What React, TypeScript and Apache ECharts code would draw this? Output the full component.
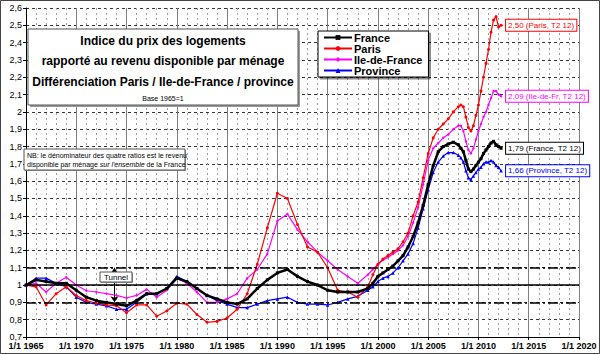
import React, { useEffect, useRef } from "react";
import * as echarts from "echarts";

const years = [
  1965, 1966, 1967, 1968, 1969, 1970, 1971, 1972, 1973, 1974, 1975, 1976, 1977, 1978, 1979,
  1980, 1981, 1982, 1983, 1984, 1985, 1986, 1987, 1988, 1989, 1990, 1991, 1992, 1993, 1994,
  1995, 1996, 1997, 1998,
  1999, 1999.5, 2000, 2000.5, 2001, 2001.5, 2002, 2002.5, 2003, 2003.5, 2004, 2004.5, 2005,
  2005.5, 2006, 2006.5, 2007, 2007.5, 2008,
  2008.25, 2008.5, 2008.75, 2009, 2009.25, 2009.5, 2009.75, 2010, 2010.25, 2010.5, 2010.75,
  2011, 2011.25, 2011.5, 2011.75, 2012, 2012.25,
];

const france = [
  1.0, 1.03, 1.02, 1.01, 1.01, 0.97, 0.93, 0.91, 0.9, 0.89, 0.88, 0.91, 0.95, 0.95, 0.98,
  1.04, 1.02, 0.98, 0.94, 0.92, 0.9, 0.89, 0.92, 0.98, 1.03, 1.07, 1.09, 1.05, 1.02, 1.0,
  0.97, 0.96, 0.96, 0.96,
  0.98, 1.01, 1.05, 1.07, 1.09, 1.11, 1.14, 1.17, 1.22, 1.28, 1.36, 1.46, 1.58,
  1.69, 1.77, 1.8, 1.815, 1.825, 1.81,
  1.79, 1.77, 1.72, 1.67, 1.655, 1.67, 1.69, 1.71, 1.73, 1.76, 1.78,
  1.8, 1.82, 1.83, 1.81, 1.8, 1.79,
];

const paris = [
  1.0, 0.99, 0.885, 0.95, 0.99, 0.94, 0.91, 0.895, 0.885, 0.88, 0.84, 0.885, 0.885, 0.82, 0.85,
  0.895, 0.89, 0.83, 0.785, 0.79, 0.81, 0.86, 0.95, 1.12, 1.33, 1.53, 1.5, 1.35, 1.22, 1.19,
  1.1, 0.97, 0.96, 0.93,
  0.99, 1.06, 1.12, 1.15, 1.17, 1.19, 1.21, 1.25, 1.3, 1.4, 1.48, 1.62, 1.76,
  1.85, 1.9, 1.93, 1.96, 2.0, 2.03,
  2.04, 2.03, 1.97, 1.91, 1.89, 1.92, 1.98, 2.04, 2.12, 2.2, 2.28,
  2.36, 2.46, 2.53, 2.55, 2.49, 2.5,
];

const ileDeFrance = [
  1.0, 1.01, 0.96, 1.01, 1.045, 1.0, 0.967, 0.96, 0.95, 0.94, 0.925, 0.94, 0.975, 0.93, 0.97,
  1.04, 1.01, 0.96, 0.9, 0.9, 0.92, 0.95, 1.04, 1.09, 1.18, 1.37, 1.41, 1.32, 1.25, 1.19,
  1.14, 1.09, 1.05, 1.01,
  1.06, 1.09, 1.12, 1.145, 1.16, 1.18, 1.2, 1.23, 1.28, 1.36, 1.45, 1.58, 1.72,
  1.79, 1.82, 1.85, 1.87, 1.9, 1.92,
  1.92, 1.89, 1.83, 1.78, 1.76, 1.79, 1.84, 1.89, 1.93, 1.97, 2.0,
  2.04, 2.08, 2.12, 2.12, 2.1, 2.09,
];

const province = [
  1.0, 1.04, 1.04, 1.01, 0.99, 0.93, 0.9, 0.89, 0.88, 0.86, 0.86, 0.9, 0.95, 0.95, 0.98,
  1.05, 1.02, 0.98, 0.94, 0.91, 0.89, 0.87, 0.87, 0.89, 0.91, 0.92, 0.93, 0.9, 0.89, 0.89,
  0.885, 0.9, 0.92, 0.935,
  0.97, 0.99, 1.02, 1.04, 1.05, 1.07, 1.1, 1.14, 1.18, 1.24, 1.33, 1.44, 1.55,
  1.65, 1.71, 1.745, 1.765, 1.765, 1.75,
  1.735, 1.71, 1.66, 1.62, 1.61, 1.63, 1.65, 1.67, 1.68, 1.7, 1.71,
  1.71, 1.72, 1.71, 1.69, 1.68, 1.66,
];

const seriesNames = ["France", "Paris", "Ile-de-France", "Province"];
const endLabelNames = ["France", "Paris", "Ile-de-Fr", "Province"];
const endPeriod = "T2 12";
const refLines = [1.0, 1.1, 0.9];
const tunnelYear = 1973.8;

const FONT = "Liberation Sans, Arial, sans-serif";
const ZB = 50;

const fmt = (v: number, d: number) => v.toFixed(d).replace(".", ",");

const boxWithShadow = (w: number, h: number, off: number) => [
  {
    type: "rect",
    z: ZB,
    shape: { x: off, y: off, width: w, height: h },
    style: { fill: "#9a9a9a", stroke: "none" },
  },
  {
    type: "rect",
    z: ZB + 1,
    shape: { x: 0, y: 0, width: w, height: h },
    style: { fill: "#ffffff", stroke: "#555", lineWidth: 1 },
  },
];

const txt = (x: number, y: number, style: any) => ({
  type: "text",
  z: ZB + 2,
  x,
  y,
  style: { fontFamily: FONT, fill: "#000", ...style },
});

export default function App() {
  const ref = useRef<HTMLDivElement>(null);
  useEffect(() => {
    if (!ref.current) return;
    const chart = echarts.init(ref.current, null, { renderer: "svg" });
    const pairs = (vals: number[]) => years.map((y, i) => [y, vals[i]]);
    const colors = ["#000000", "#FF0000", "#FF00FF", "#0000FF"];
    const dataSets = [france, paris, ileDeFrance, province];
    const symbols = ["rect", "circle", "diamond", "triangle"];
    const symbolSizes = [3, 3, 3, 3.5];
    const widths = [2.5, 1.2, 1.2, 1.2];

    const series: any[] = dataSets.map((vals, i) => ({
      name: seriesNames[i],
      type: "line",
      data: pairs(vals),
      z: i === 0 ? 6 : 5 - i,
      color: colors[i],
      symbol: symbols[i],
      symbolSize: symbolSizes[i],
      showAllSymbol: true,
      lineStyle: { width: widths[i], color: colors[i] },
      itemStyle: { color: colors[i], borderColor: colors[i], borderWidth: 0 },
      endLabel: {
        show: true,
        formatter: () =>
          `${fmt(vals[vals.length - 1], 2)} (${endLabelNames[i]}, ${endPeriod})`,
        color: colors[i],
        fontFamily: FONT,
        fontSize: 8,
        backgroundColor: "#fff",
        borderColor: colors[i],
        borderWidth: 1,
        padding: [2, 2, 1, 2],
        distance: 5,
      },
    }));

    series[0].markLine = {
      silent: true,
      symbol: "none",
      label: { show: false },
      data: refLines.map((v, k) => ({
        yAxis: v,
        lineStyle: {
          color: "#000",
          width: 1.5,
          type: k === 0 ? "solid" : [10, 3, 2, 3],
        },
      })),
    };
    series[3].markLine = {
      silent: true,
      symbol: ["arrow", "arrow"],
      symbolSize: 6,
      label: { show: false },
      lineStyle: { color: "#000", width: 1, type: "solid" },
      data: [[{ coord: [tunnelYear, 1.1] }, { coord: [tunnelYear, 0.9] }]],
    };

    chart.setOption({
      animation: false,
      backgroundColor: "#fff",
      textStyle: { fontFamily: FONT },
      grid: { left: 26, right: 21, top: 8, bottom: 17, containLabel: false },
      legend: {
        orient: "vertical",
        left: 318,
        top: 31,
        data: seriesNames,
        itemWidth: 28,
        itemHeight: 6,
        itemGap: 0,
        padding: [1, 6, 1, 5],
        backgroundColor: "#fff",
        borderColor: "#000",
        borderWidth: 1,
        shadowColor: "rgba(0,0,0,0.45)",
        shadowOffsetX: 2,
        shadowOffsetY: 2,
        textStyle: {
          fontFamily: FONT,
          fontSize: 11,
          fontWeight: "bold",
          color: "#000",
          lineHeight: 10,
          padding: [0, 0, 0, -3],
        },
      },
      xAxis: {
        type: "value",
        min: 1965,
        max: 2020,
        interval: 5,
        axisLine: { show: true, onZero: false, lineStyle: { color: "#000", width: 1 } },
        axisTick: { show: true, length: 3, lineStyle: { color: "#000" } },
        axisLabel: {
          formatter: (v: number) => `1/1 ${v}`,
          fontFamily: FONT,
          fontSize: 9,
          fontWeight: "bold",
          color: "#000",
          margin: 4,
        },
        splitLine: { show: true, lineStyle: { color: "#808080", width: 1 } },
        minorTick: { show: false, splitNumber: 5 },
        minorSplitLine: { show: true, lineStyle: { color: "#a0a0a0", width: 1, type: [2, 3] } },
      },
      yAxis: {
        type: "value",
        min: 0.7,
        max: 2.6,
        interval: 0.1,
        axisLine: { show: true, onZero: false, lineStyle: { color: "#000", width: 1 } },
        axisTick: { show: true, length: 3, lineStyle: { color: "#000" } },
        axisLabel: {
          formatter: (v: number) => String(Math.round(v * 10) / 10).replace(".", ","),
          fontFamily: FONT,
          fontSize: 9,
          color: "#000",
          margin: 4,
        },
        splitLine: { show: true, lineStyle: { color: "#333", width: 1, type: [3, 3] } },
      },
      series,
      graphic: [
        {
          type: "rect",
          shape: { x: 0.5, y: 0.5, width: 599, height: 353 },
          style: { fill: "none", stroke: "#444", lineWidth: 1 },
          z: 100,
          silent: true,
        },
        {
          type: "group",
          x: 28,
          y: 29,
          children: [
            ...boxWithShadow(270, 76, 2),
            txt(135, 12, {
              text: "Indice du prix des logements",
              fontSize: 12,
              fontWeight: "bold",
              align: "center",
              verticalAlign: "middle",
            }),
            txt(135, 32, {
              text: "rapporté au revenu disponible par ménage",
              fontSize: 12,
              fontWeight: "bold",
              align: "center",
              verticalAlign: "middle",
            }),
            txt(135, 53, {
              text: "Différenciation Paris / Ile-de-France / province",
              fontSize: 12,
              fontWeight: "bold",
              align: "center",
              verticalAlign: "middle",
            }),
            txt(135, 69, {
              text: "Base 1965=1",
              fontSize: 7,
              align: "center",
              verticalAlign: "middle",
            }),
          ],
        },
        {
          type: "group",
          x: 24,
          y: 149,
          children: [
            ...boxWithShadow(161, 21, 1),
            txt(3, 2, {
              text: "NB: le dénominateur des quatre ratios est le revenu\n{n|disponible par ménage }{i|sur l'ensemble}{n| de la France}",
              fontSize: 7,
              lineHeight: 9,
              rich: {
                n: { fontFamily: FONT, fontSize: 7, fill: "#000" },
                i: { fontFamily: FONT, fontSize: 7, fontStyle: "italic", fill: "#000" },
              },
            }),
          ],
        },
        {
          type: "group",
          x: 100,
          y: 272,
          children: [
            ...boxWithShadow(32, 10, 1),
            txt(16, 5.5, {
              text: "Tunnel",
              fontSize: 8,
              align: "center",
              verticalAlign: "middle",
            }),
          ],
        },
      ],
    });
    return () => chart.dispose();
  }, []);
  return <div ref={ref} style={{ width: 600, height: 354, position: "absolute", left: 0, top: 0 }} />;
}
